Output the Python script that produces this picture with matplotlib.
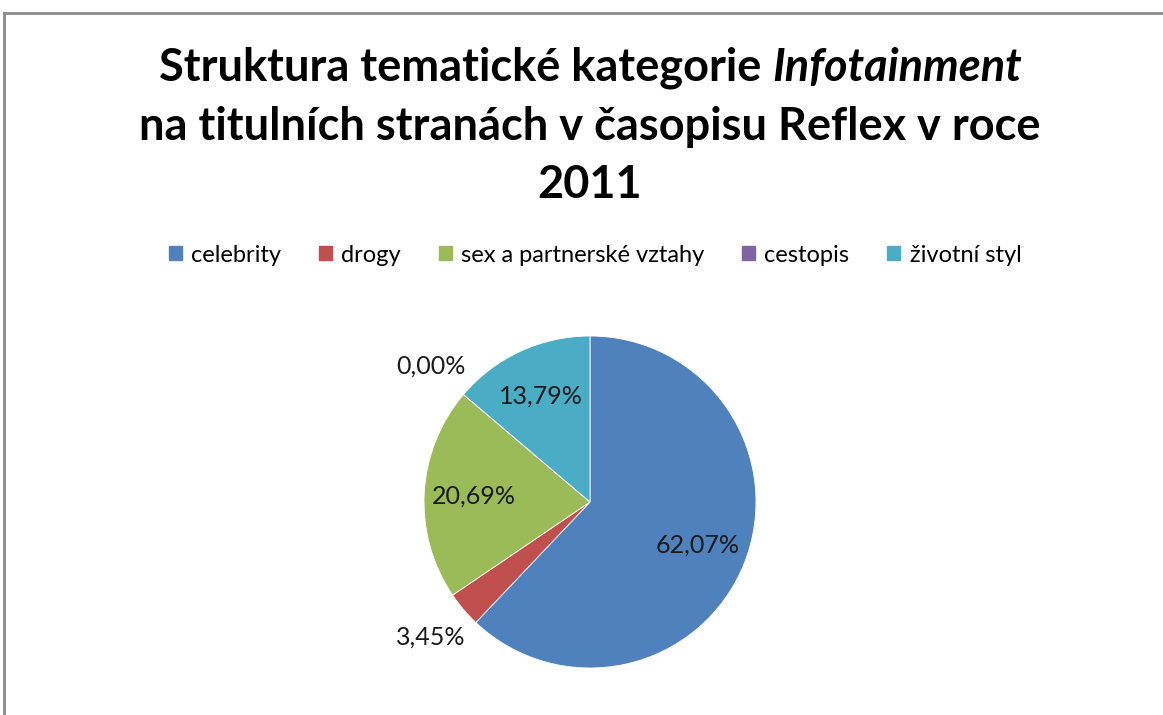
import matplotlib
matplotlib.use("Agg")
import matplotlib.pyplot as plt
from matplotlib.lines import Line2D
from matplotlib.patches import Patch
import numpy as np

# ── data ──────────────────────────────────────────────────────────────────────
categories = ["celebrity", "drogy", "sex a partnerské vztahy", "cestopis", "životní styl"]
shares     = [62.07, 3.45, 20.69, 0.00, 13.79]
colors     = ["#4F81BD", "#C0504D", "#9BBB59", "#8064A2", "#4BACC6"]

title_pre  = "Struktura tematické kategorie "
title_ital = "Infotainment"
title_rest = ["na titulních stranách v časopisu Reflex v roce", "2011"]

FONT = "Lato"
W, H = 1163, 715
fig = plt.figure(figsize=(W / 100, H / 100), dpi=100)

# frame (top and left edges visible in the crop)
fig.add_artist(Line2D([4 / W, 1], [1 - 13 / H, 1 - 13 / H], color="#8a8a8a", lw=2.0))
fig.add_artist(Line2D([4 / W, 4 / W], [0, 1 - 13 / H], color="#8a8a8a", lw=2.0))

# ── title ─────────────────────────────────────────────────────────────────────
fs_title = 32.5
t1 = fig.text(0, 1 - 68 / H, title_pre, fontsize=fs_title, fontweight="bold",
              family=FONT, va="center", ha="left")
t2 = fig.text(0, 1 - 68 / H, title_ital, fontsize=fs_title, fontweight="bold",
              style="italic", family=FONT, va="center", ha="left")
fig.canvas.draw()
r = fig.canvas.get_renderer()
w1 = t1.get_window_extent(r).width
w2 = t2.get_window_extent(r).width
x0 = 590 - (w1 + w2) / 2
t1.set_x(x0 / W)
t2.set_x((x0 + w1) / W)
for i, line in enumerate(title_rest):
    fig.text(590 / W, 1 - (127 + 58 * i) / H, line, fontsize=fs_title, fontweight="bold",
             family=FONT, va="center", ha="center")

# ── pie ───────────────────────────────────────────────────────────────────────
cx, cy, rad = 590, 502, 166
ax = fig.add_axes([(cx - rad) / W, (H - cy - rad) / H, 2 * rad / W, 2 * rad / H])
wedges, _ = ax.pie(shares, colors=colors, startangle=90, counterclock=False,
                   wedgeprops={"edgecolor": "white", "linewidth": 0.6})
ax.set_xlim(-1, 1)
ax.set_ylim(-1, 1)
ax.set_aspect("equal")
ax.axis("off")

for wdg, v in zip(wedges, shares):
    ang = np.deg2rad((wdg.theta1 + wdg.theta2) / 2)
    d = 0.70 if v > 5 else 1.26
    ax.text(d * np.cos(ang), d * np.sin(ang), f"{v:.2f}%".replace(".", ","),
            ha="center", va="center", fontsize=18, family=FONT, color="#1a1a1a",
            clip_on=False)

# ── legend ────────────────────────────────────────────────────────────────────
handles = [Patch(facecolor=c, edgecolor=c) for c in colors]
fig.legend(handles, categories, loc="center", bbox_to_anchor=(595 / W, 1 - 255 / H),
           ncol=5, frameon=False, prop={"family": FONT, "size": 17},
           handlelength=0.55, handleheight=0.55, handletextpad=0.4, columnspacing=1.6)

fig.savefig("out.png", dpi=100)
